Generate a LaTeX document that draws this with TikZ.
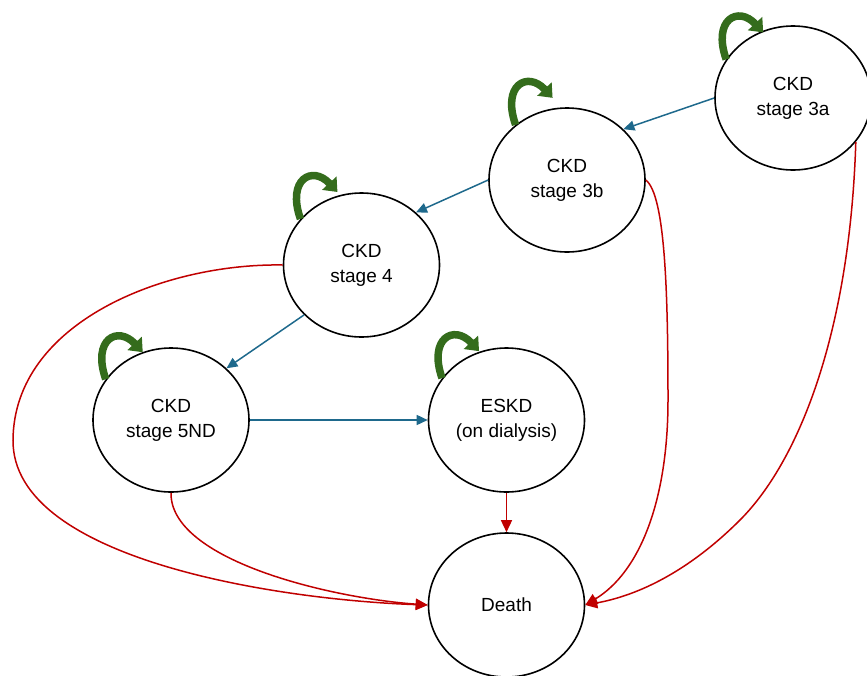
\documentclass[tikz,border=0pt]{standalone}
\usepackage{fontspec}
\setmainfont{Liberation Sans}
\usetikzlibrary{arrows.meta,shapes.geometric}
\definecolor{flowblue}{RGB}{30,105,140}
\definecolor{deathred}{RGB}{192,0,0}
\definecolor{loopgreen}{RGB}{52,108,28}
\tikzset{
  state/.style={ellipse, draw=black, line width=1.6pt, fill=white,
    minimum width=156pt, minimum height=144pt, inner sep=0pt,
    align=center, font=\fontsize{19}{25}\selectfont},
  progress/.style={draw=flowblue, line width=1.5pt,
    -{Triangle[length=11pt,width=10pt]}},
  dies/.style={draw=deathred, line width=1.5pt,
    -{Triangle[length=12pt,width=11pt]}},
  selfloop/.pic={
    \draw[draw=loopgreen, line width=7.5pt,
      -{Triangle[length=12pt,width=19pt,fill=loopgreen]}]
      (0,0) .. controls (-14,-40) and (12,-54) .. (37,-27);
  }
}
\begin{document}
\begin{tikzpicture}[x=1pt,y=-1pt]
\useasboundingbox (0,0) rectangle (867,675);

\node[state] (s3a) at (793,98) {CKD\\stage 3a};
\node[state] (s3b) at (567,180) {CKD\\stage 3b};
\node[state] (s4) at (361.5,265) {CKD\\stage 4};
\node[state] (s5) at (171,420) {CKD\\stage 5ND};
\node[state] (eskd) at (506.5,420) {ESKD\\(on dialysis)};
\node[state] (death) at (506.5,605) {Death};

% self loops
\pic at (s3a.150) {selfloop};
\pic at (s3b.133) {selfloop};
\pic at (s4.143) {selfloop};
\pic at (s5.148) {selfloop};
\pic at (eskd.147) {selfloop};

% progression
\draw[progress] (s3a.west) -- (s3b.42);
\draw[progress] (s3b.west) -- (s4.44);
\draw[progress] (s4.221) -- (s5.43);
\draw[progress] (s5.east) -- (eskd.west);

% deaths
\draw[dies] (eskd.south) -- (death.north);
\draw[dies] (s4.west) .. controls (165,263) and (14,322) .. (13,440)
  .. controls (12,560) and (280,600) .. (death.west);
\draw[dies] (s5.south) .. controls (170,560) and (330,598) .. (death.west);
\draw[dies] (s3b.east) .. controls (665,195) and (668,290) .. (668,400)
  .. controls (668,500) and (640,572) .. (death.east);
\draw[dies] (s3a.-35) .. controls (850,330) and (800,460) .. (740,520)
  .. controls (690,570) and (640,595) .. (death.east);
\end{tikzpicture}
\end{document}
